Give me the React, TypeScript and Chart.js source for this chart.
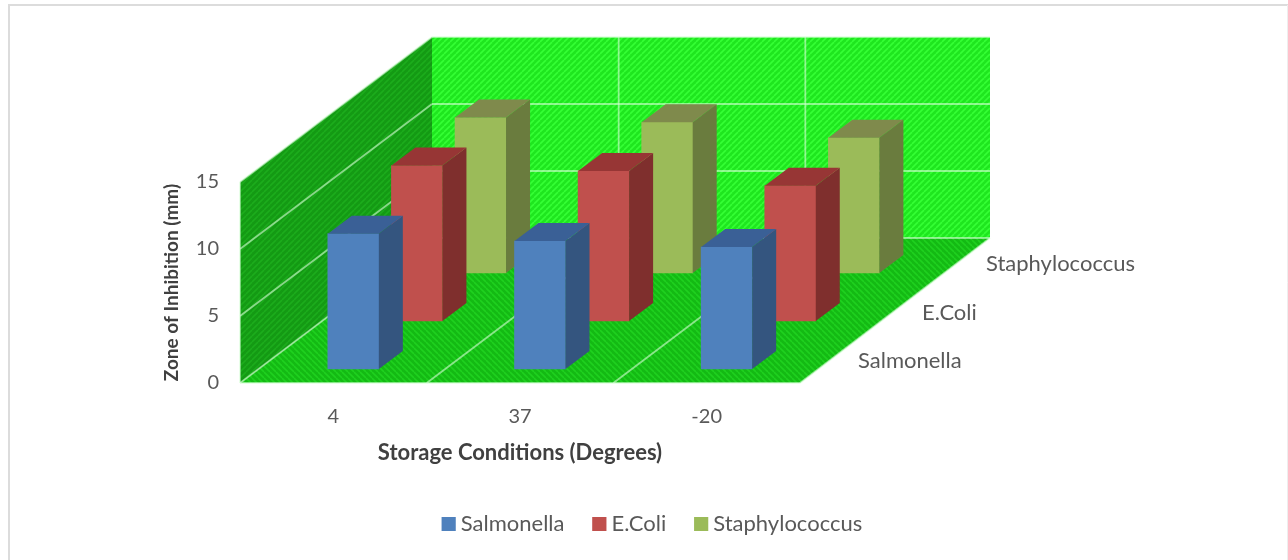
import React, { useEffect, useRef } from "react";
import { Chart, registerables } from "chart.js";

Chart.register(...registerables);

const categories = ["4", "37", "-20"];
const seriesNames = ["Salmonella", "E.Coli", "Staphylococcus"];
const salmonella = [10.1, 9.55, 9.1];
const eColi = [11.6, 11.2, 10.1];
const staphylococcus = [11.6, 11.25, 10.1];
const frontColors = ["#4f81bd", "#c0504d", "#9bbb59"];
const sideColors = ["#34557f", "#7f2f2d", "#6a7c3e"];
const topColors = ["#3a6096", "#973635", "#7f8a4c"];

const FONT = "Lato";
const TEXT = "#595959";
const DEPTH_X = 192;
const DEPTH_Y = 145;
const ROW_X = 63.6;
const ROW_Y = 48;
const BAR_OFF_X = 20;
const BAR_OFF_Y = 14;
const SIDE_X = 24;
const SIDE_Y = 18;
const GRID = "rgba(215,255,215,0.6)";

function stripes(ctx: CanvasRenderingContext2D, base: string, line: string, dir: number) {
  const c = document.createElement("canvas");
  c.width = 6;
  c.height = 6;
  const g = c.getContext("2d")!;
  g.fillStyle = base;
  g.fillRect(0, 0, 6, 6);
  g.strokeStyle = line;
  g.lineWidth = 1.6;
  for (let i = -6; i <= 12; i += 6) {
    g.beginPath();
    if (dir > 0) {
      g.moveTo(i, 6);
      g.lineTo(i + 6, 0);
    } else {
      g.moveTo(i, 0);
      g.lineTo(i + 6, 6);
    }
    g.stroke();
  }
  return ctx.createPattern(c, "repeat")!;
}

function poly(ctx: CanvasRenderingContext2D, pts: number[][], fill: any) {
  ctx.beginPath();
  pts.forEach((p, i) => (i ? ctx.lineTo(p[0], p[1]) : ctx.moveTo(p[0], p[1])));
  ctx.closePath();
  ctx.fillStyle = fill;
  ctx.fill();
}

function seg(ctx: CanvasRenderingContext2D, x1: number, y1: number, x2: number, y2: number) {
  ctx.beginPath();
  ctx.moveTo(x1, y1);
  ctx.lineTo(x2, y2);
  ctx.stroke();
}

const plugin3d = {
  id: "plugin3d",
  afterLayout(chart: any) {
    const lg = chart.legend;
    const h = lg.height;
    lg.left = 0;
    lg.right = 1304;
    lg.width = 1304;
    lg.top = 485;
    lg.bottom = lg.top + h;
    lg.adjustHitBoxes();
  },
  afterDatasetsUpdate(chart: any) {
    chart.data.datasets.forEach((_: any, i: number) => {
      chart.getDatasetMeta(i).data.forEach((el: any) => {
        el.x += BAR_OFF_X + i * ROW_X;
        el.y -= BAR_OFF_Y + i * ROW_Y;
        el.base -= BAR_OFF_Y + i * ROW_Y;
      });
    });
  },
  beforeDraw(chart: any) {
    const ctx = chart.ctx;
    ctx.save();
    ctx.fillStyle = "#ffffff";
    ctx.fillRect(0, 0, chart.width, chart.height);
    ctx.strokeStyle = "#dcdcdc";
    ctx.lineWidth = 2;
    ctx.beginPath();
    ctx.moveTo(9, 560);
    ctx.lineTo(9, 5);
    ctx.lineTo(1288, 5);
    ctx.stroke();
    ctx.strokeStyle = "#eeeeee";
    ctx.lineWidth = 1;
    seg(ctx, 1287.5, 5, 1287.5, 560);
    ctx.restore();
  },
  beforeDatasetsDraw(chart: any) {
    const ctx = chart.ctx;
    const { x, y } = chart.scales;
    const { left: l, right: r, top: t, bottom: b } = chart.chartArea;
    ctx.save();
    poly(ctx, [[l + DEPTH_X, t - DEPTH_Y], [r + DEPTH_X - 2, t - DEPTH_Y], [r + DEPTH_X - 2, b - DEPTH_Y], [l + DEPTH_X, b - DEPTH_Y]], stripes(ctx, "#1fe61f", "#35ff35", 1));
    poly(ctx, [[l, t], [l + DEPTH_X, t - DEPTH_Y], [l + DEPTH_X, b - DEPTH_Y], [l, b]], stripes(ctx, "#149a14", "#1cac1c", 1));
    poly(ctx, [[l, b], [r, b], [r + DEPTH_X - 2, b - DEPTH_Y], [l + DEPTH_X, b - DEPTH_Y]], stripes(ctx, "#14ba14", "#1fd01f", -1));
    ctx.strokeStyle = GRID;
    ctx.lineWidth = 1.8;
    y.ticks.forEach((tk: any) => {
      const py = y.getPixelForValue(tk.value);
      seg(ctx, l, py, l + DEPTH_X, py - DEPTH_Y);
      seg(ctx, l + DEPTH_X, py - DEPTH_Y, r + DEPTH_X - 2, py - DEPTH_Y);
    });
    const band = (r - l) / categories.length;
    categories.forEach((_, i) => {
      const px = x.getPixelForValue(i) + band / 2;
      if (i < categories.length - 1) {
        seg(ctx, px, b, px + DEPTH_X, b - DEPTH_Y);
        seg(ctx, px + DEPTH_X, b - DEPTH_Y, px + DEPTH_X, t - DEPTH_Y);
      }
    });
    seg(ctx, l, b, l, t);
    seg(ctx, l, b, r, b);
    seg(ctx, r, b, r + DEPTH_X - 2, b - DEPTH_Y);
    ctx.font = `22px ${FONT}`;
    ctx.fillStyle = TEXT;
    ctx.textAlign = "left";
    ctx.textBaseline = "middle";
    seriesNames.forEach((name, i) => {
      const d = (i + 0.5) / seriesNames.length;
      ctx.fillText(name, r + DEPTH_X * d + 26, b - DEPTH_Y * d + 2);
    });
    ctx.restore();
  },
  afterDatasetDraw(chart: any, args: any) {
    const ctx = chart.ctx;
    const i = args.index;
    ctx.save();
    args.meta.data.forEach((el: any) => {
      const a = el.x - el.width / 2;
      const c = el.x + el.width / 2;
      poly(ctx, [[c, el.y], [c + SIDE_X, el.y - SIDE_Y], [c + SIDE_X, el.base - SIDE_Y], [c, el.base]], sideColors[i]);
      poly(ctx, [[a, el.y], [a + SIDE_X, el.y - SIDE_Y], [c + SIDE_X, el.y - SIDE_Y], [c, el.y]], topColors[i]);
    });
    ctx.restore();
  },
  afterDraw(chart: any) {
    const ctx = chart.ctx;
    const lg = chart.legend;
    ctx.save();
    lg.legendHitBoxes.forEach((hb: any, i: number) => {
      ctx.fillStyle = frontColors[i];
      ctx.fillRect(hb.left, 517, 14, 14);
    });
    ctx.restore();
  },
};

export default function App() {
  const ref = useRef<HTMLCanvasElement>(null);
  useEffect(() => {
    const values = [salmonella, eColi, staphylococcus];
    const chart = new Chart(ref.current!, {
      type: "bar",
      data: {
        labels: categories,
        datasets: seriesNames.map((name, i) => ({
          label: name,
          data: values[i],
          backgroundColor: frontColors[i],
          borderWidth: 0,
          clip: false as any,
        })),
      },
      options: {
        responsive: false,
        devicePixelRatio: 1,
        animation: false,
        grouped: false,
        barThickness: 51,
        layout: { padding: { left: 160, right: 488, top: 182, bottom: 0 } },
        plugins: {
          tooltip: { enabled: false },
          title: { display: false },
          legend: {
            display: true,
            position: "bottom",
            labels: {
              boxWidth: 8,
              boxHeight: 14,
              padding: 28,
              color: TEXT,
              font: { family: FONT, size: 22 },
            },
          },
        },
        scales: {
          x: {
            type: "category",
            grid: { display: false },
            border: { display: false },
            ticks: { color: TEXT, font: { family: FONT, size: 20 }, padding: 14, maxRotation: 0 },
            title: {
              display: true,
              text: "Storage Conditions (Degrees)",
              color: "#404040",
              font: { family: FONT, size: 22, weight: "bold", lineHeight: 1.2 },
              padding: { top: 0, bottom: 34 },
            },
            afterFit: (s: any) => {
              s.height = 177 - s.chart.legend.height;
            },
          },
          y: {
            type: "linear",
            min: 0,
            max: 15,
            grid: { display: false },
            border: { display: false },
            ticks: { stepSize: 5, color: TEXT, font: { family: FONT, size: 20 }, padding: 13 },
            title: {
              display: true,
              text: "Zone of Inhibition (mm)",
              color: "#404040",
              font: { family: FONT, size: 19, weight: "bold", lineHeight: 1.2 },
              padding: 0,
            },
            afterFit: (s: any) => {
              s.width = 80;
            },
          },
        },
      } as any,
      plugins: [plugin3d],
    });
    return () => chart.destroy();
  }, []);
  return (
    <div style={{ position: "fixed", left: 0, top: 0, width: 1288, height: 560, background: "#fff" }}>
      <canvas ref={ref} width={1288} height={560} style={{ display: "block" }} />
    </div>
  );
}
